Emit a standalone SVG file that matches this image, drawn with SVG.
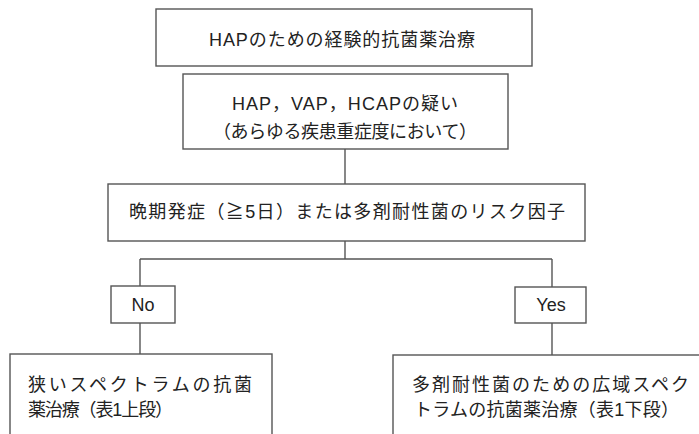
<svg xmlns="http://www.w3.org/2000/svg" width="699" height="434" viewBox="0 0 699 434">
<style>
.box{fill:#fff;stroke:#555;stroke-width:1.4}
.ln{stroke:#555;stroke-width:1.4;fill:none}
text{font-family:"Liberation Sans","Noto Sans CJK JP",sans-serif;font-size:18px;fill:#222}
</style>
<rect width="699" height="434" fill="#fff"/>
<g id="connectors">
<line class="ln" x1="345" y1="149" x2="345" y2="184"/>
<line class="ln" x1="345" y1="241" x2="345" y2="259"/>
<line class="ln" x1="140" y1="259" x2="552" y2="259"/>
<line class="ln" x1="140" y1="259" x2="140" y2="286"/>
<line class="ln" x1="552" y1="259" x2="552" y2="287"/>
<line class="ln" x1="140" y1="323" x2="140" y2="354"/>
<line class="ln" x1="552" y1="323" x2="552" y2="355"/>
</g>
<g id="n1">
<rect class="box" x="156" y="9" width="376" height="57"/>
<text x="209" y="46" textLength="266" lengthAdjust="spacing">HAPのための経験的抗菌薬治療</text>
</g>
<g id="n2">
<rect class="box" x="183" y="74" width="325" height="75"/>
<text x="232" y="110" textLength="226" lengthAdjust="spacing">HAP，VAP，HCAPの疑い</text>
<text x="213" y="138" textLength="264" lengthAdjust="spacing">（あらゆる疾患重症度において）</text>
</g>
<g id="n3">
<rect class="box" x="108" y="184" width="477" height="57"/>
<text x="129" y="218" textLength="436" lengthAdjust="spacing">晩期発症（≧5日）または多剤耐性菌のリスク因子</text>
</g>
<g id="n4">
<rect class="box" x="111" y="286" width="64" height="37"/>
<text x="143" y="311" text-anchor="middle">No</text>
</g>
<g id="n5">
<rect class="box" x="515" y="287" width="71" height="36"/>
<text x="551" y="311" text-anchor="middle">Yes</text>
</g>
<g id="n6">
<rect class="box" x="10" y="354" width="262" height="100"/>
<text x="28" y="391" textLength="224" lengthAdjust="spacing">狭いスペクトラムの抗菌</text>
<text x="28" y="416" textLength="145" lengthAdjust="spacing">薬治療（表1上段）</text>
</g>
<g id="n7">
<rect class="box" x="393" y="355" width="330" height="100"/>
<text x="412" y="391" textLength="277" lengthAdjust="spacing">多剤耐性菌のための広域スペク</text>
<text x="414" y="416" textLength="265" lengthAdjust="spacing">トラムの抗菌薬治療（表1下段）</text>
</g>
</svg>
